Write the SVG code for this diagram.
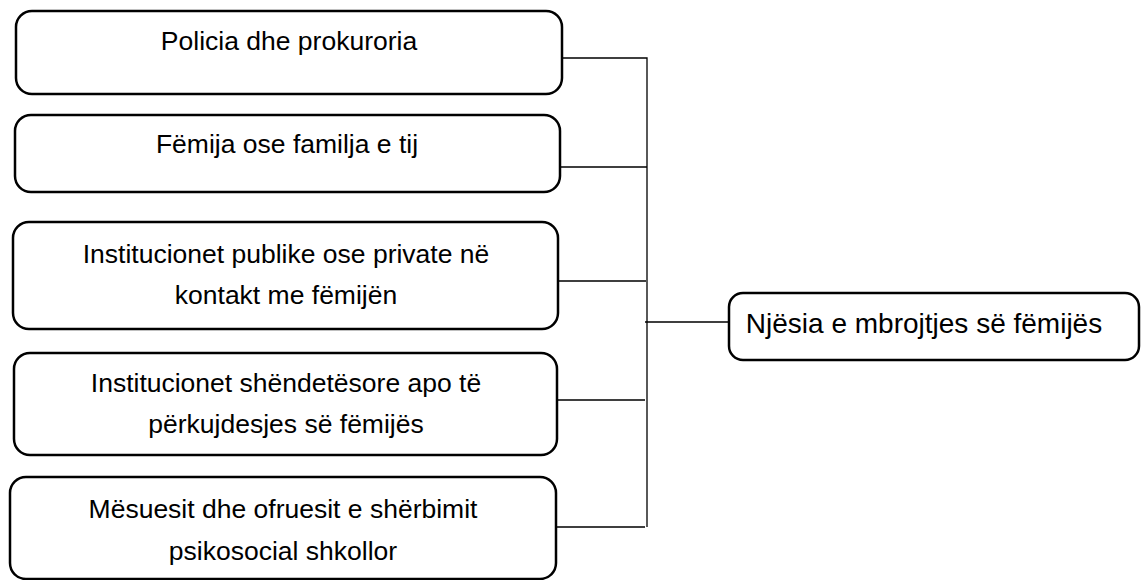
<svg xmlns="http://www.w3.org/2000/svg" width="1142" height="580" viewBox="0 0 1142 580">
<style>
.box{fill:#fff;stroke:#000;stroke-width:2.5}
.lbl{font-family:"Liberation Sans",Arial,sans-serif;font-size:26.5px;fill:#000;text-anchor:middle}
.big{font-size:28px}
.con{fill:none;stroke:#000;stroke-width:1.3}
</style>
<rect width="1142" height="580" fill="#fff"/>
<g id="connectors">
<path class="con" d="M562 58H647V527M560 167H647M558 281H646M557 400H645M556 527H645M645 322H729"/>
</g>
<g id="n1"><rect class="box" x="16" y="11" width="546" height="83" rx="16"/><text class="lbl" x="289" y="50">Policia dhe prokuroria</text></g>
<g id="n2"><rect class="box" x="15" y="115" width="545" height="77" rx="16"/><text class="lbl" x="287" y="153">Fëmija ose familja e tij</text></g>
<g id="n3"><rect class="box" x="13" y="222" width="545" height="107" rx="16"/><text class="lbl" x="286" y="263">Institucionet publike ose private në</text><text class="lbl" x="286" y="304">kontakt me fëmijën</text></g>
<g id="n4"><rect class="box" x="14" y="353" width="543" height="102" rx="16"/><text class="lbl" x="286" y="392">Institucionet shëndetësore apo të</text><text class="lbl" x="286" y="433">përkujdesjes së fëmijës</text></g>
<g id="n5"><rect class="box" x="10" y="477" width="546" height="102" rx="16"/><text class="lbl" x="283" y="518">Mësuesit dhe ofruesit e shërbimit</text><text class="lbl" x="283" y="560">psikosocial shkollor</text></g>
<g id="n6"><rect class="box" x="729" y="293" width="410" height="67" rx="14"/><text class="lbl big" x="924" y="333">Njësia e mbrojtjes së fëmijës</text></g>
</svg>
